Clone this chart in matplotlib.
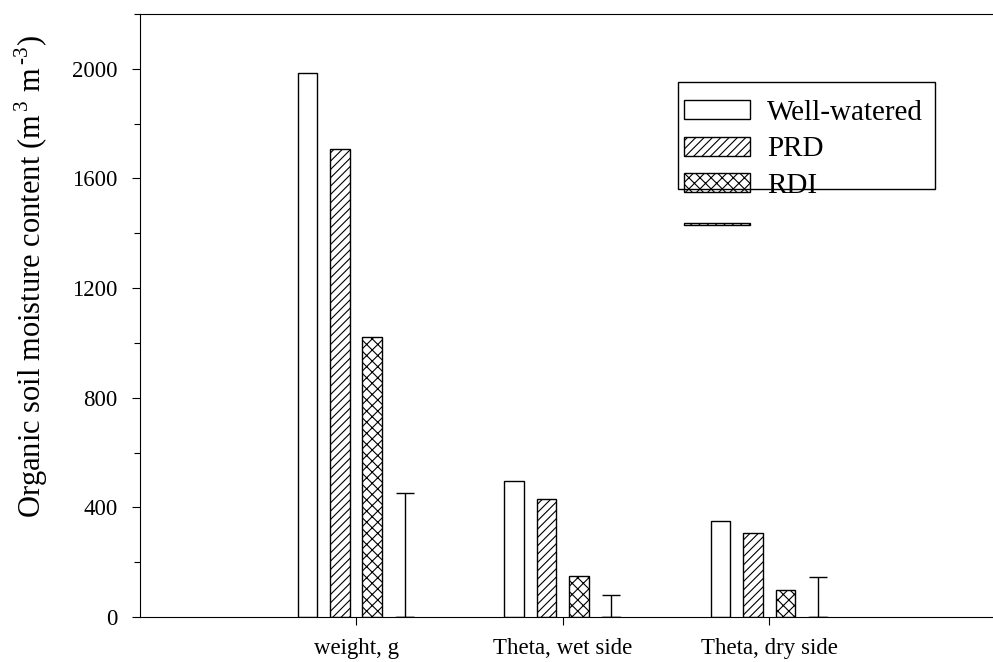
import numpy as np
import matplotlib
matplotlib.use('Agg')
import matplotlib.pyplot as plt
import matplotlib.patches as mpatches
from matplotlib.legend_handler import HandlerPatch
from matplotlib.ticker import MultipleLocator

plt.rcParams['font.family'] = 'Liberation Serif'
plt.rcParams['mathtext.fontset'] = 'custom'
plt.rcParams['mathtext.rm'] = 'Liberation Serif'
plt.rcParams['hatch.linewidth'] = 0.8

# data
groups = ['weight, g', 'Theta, wet side', 'Theta, dry side']
well_watered = [1985, 496, 352]
prd = [1708, 429, 306]
rdi = [1023, 150, 97]
fourth = [0, 0, 0]
fourth_err = [452, 80, 145]

series_labels = ['Well-watered', 'PRD', 'RDI', ' ']
hatches = ['', '////', 'xxx', '\\\\\\\\']

x = np.arange(1, len(groups) + 1)
step = 0.157
width = 0.095

fig = plt.figure(figsize=(9.93, 6.62), dpi=100)
ax = fig.add_axes([140/993, 45/662, 853/993, 603/662])

bars = []
for i, vals in enumerate([well_watered, prd, rdi, fourth]):
    kw = {}
    if i == 3:
        kw = dict(yerr=[np.zeros(len(fourth_err)), fourth_err],
                  error_kw=dict(capsize=6.5, elinewidth=1.0, capthick=1.0, ecolor='black'))
    b = ax.bar(x + (i - 1.5) * step, vals, width, color='white', edgecolor='black',
               linewidth=1.0, hatch=hatches[i], label=series_labels[i], **kw)
    bars.append(b)

ax.set_xlim(-0.046, 4.084)
ax.set_ylim(0, 2200)
ax.set_xticks(x)
ax.set_xticklabels(groups, fontsize=16.5)
ax.yaxis.set_major_locator(MultipleLocator(400))
ax.yaxis.set_minor_locator(MultipleLocator(200))
ax.tick_params(axis='y', which='major', direction='out', length=6, width=0.8, pad=10, labelsize=16.5)
ax.tick_params(axis='y', which='minor', direction='out', length=4, width=0.8)
ax.tick_params(axis='x', direction='out', length=6, width=0.8, pad=9)
ax.spines['right'].set_visible(False)
for s in ['left', 'top', 'bottom']:
    ax.spines[s].set_linewidth(0.8)

ax.set_ylabel(r'Organic soil moisture content (m$^{\,3}$ m$^{\,\text{-3}}$)', fontsize=22)
ax.yaxis.set_label_coords(-0.105, 0.565)


# zero-height bar shows up as a thin hatched strip in the legend
def thin_patch(legend, orig_handle, xdescent, ydescent, width, height, fontsize):
    return mpatches.Rectangle((-xdescent, -ydescent + height * 0.2), width, height * 0.12)


handles = [b.patches[0] for b in bars]
leg = ax.legend(handles=handles, labels=series_labels, loc='upper left',
                bbox_to_anchor=(684/993, 1 - 100/662), bbox_transform=fig.transFigure,
                frameon=False, fontsize=21,
                handlelength=2.25, handleheight=0.62, handletextpad=0.6, labelspacing=0.36,
                borderpad=0, borderaxespad=0,
                handler_map={handles[3]: HandlerPatch(patch_func=thin_patch)})

# the legend frame in the reference is shorter than its entries
frame = mpatches.Rectangle((678/993, 1 - 189/662), (935 - 678)/993, (189 - 82)/662,
                           transform=fig.transFigure, fill=False, edgecolor='black',
                           linewidth=1.0, zorder=5)
fig.add_artist(frame)

fig.savefig('out.png', dpi=100)
